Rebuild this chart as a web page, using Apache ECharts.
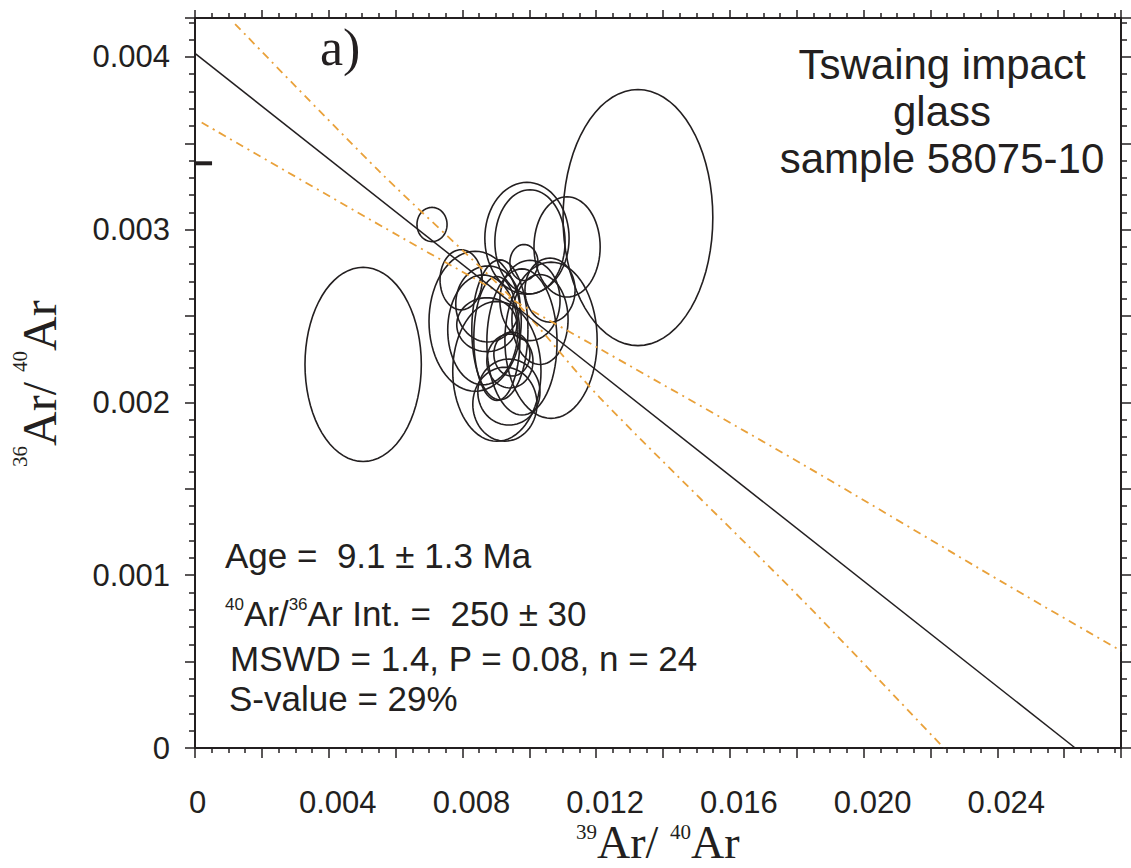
<!DOCTYPE html>
<html><head><meta charset="utf-8">
<script src="https://cdn.jsdelivr.net/npm/echarts@6/dist/echarts.min.js"></script>
<style>html,body{margin:0;padding:0;background:#fff}#c{width:1131px;height:868px}</style>
</head><body><div id="c"></div>
<script>
// ---- data ----
const xTickLabels = ['0','0.004','0.008','0.012','0.016','0.020','0.024'];
const yTickLabels = ['0','0.001','0.002','0.003','0.004'];
// error ellipses: centre (39Ar/40Ar, 36Ar/40Ar) and semi-axes
const ellCX = [0.00503,0.00709,0.01325,0.00993,0.01002,0.01113,0.00984,0.00796,0.00838,0.01065,0.00873,0.00942,0.00903,0.00912,0.01062,0.00876,0.00939,0.00903,0.00978,0.00948,0.01032,0.00861,0.00927,0.01002];
const ellCY = [0.00222,0.00303,0.00307,0.00295,0.00293,0.00290,0.00281,0.00271,0.00247,0.00236,0.00245,0.00224,0.00218,0.00242,0.00265,0.00257,0.00206,0.00237,0.00235,0.00228,0.00248,0.00242,0.00199,0.00259];
const ellRX = [0.00174,0.00045,0.00224,0.00126,0.00105,0.00099,0.00042,0.00063,0.00138,0.00138,0.00090,0.00069,0.00132,0.00084,0.00075,0.00096,0.00093,0.00069,0.00105,0.00054,0.00084,0.00105,0.00096,0.00090];
const ellRY = [0.000562,0.000099,0.000741,0.000324,0.000301,0.000290,0.000104,0.000174,0.000405,0.000452,0.000156,0.000156,0.000405,0.000405,0.000185,0.000220,0.000191,0.000359,0.000423,0.000127,0.000260,0.000318,0.000214,0.000232];
// isochron fit line
const fitX = [0, 0.02633];
const fitY = [0.00402, 0];
// error envelopes
const envSteepX = [0.0012, 0.0055, 0.0096, 0.0121, 0.0182, 0.0224];
const envSteepY = [0.00419, 0.00334, 0.00258, 0.00203, 0.00085, 0.0];
const envShallowX = [0.0002, 0.00613, 0.01211, 0.01819, 0.02429, 0.0277];
const envShallowY = [0.00362, 0.00296, 0.00231, 0.00164, 0.000944, 0.000562];
// atmospheric 36Ar/40Ar marker
const atmX = [0, 0.00051];
const atmY = [1/295.5, 1/295.5];

const X_MAX = 0.0277, Y_MAX = 0.004225;
const INK = '#231f20', ORANGE = '#E9A13A';
const SANS = '"Liberation Sans", Arial, sans-serif';
const SERIF = '"Liberation Serif", "Times New Roman", serif';

const zip = (a, b) => a.map((v, i) => [v, b[i]]);
const findLabel = (arr, v) => arr.find(s => Math.abs(parseFloat(s) - v) < 1e-9);

const chart = echarts.init(document.getElementById('c'), null, {renderer: 'svg'});

const axisCommon = {
  type: 'value', min: 0, splitLine: {show: false},
  axisLine: {show: true, onZero: false, lineStyle: {color: INK, width: 2}},
  axisTick: {show: true, inside: false, length: 9, lineStyle: {color: INK, width: 1.5}},
  minorTick: {show: true, length: 5, lineStyle: {color: INK, width: 1.5}}
};

function txt(x, y, text, font, lh, extra) {
  const st = {text: text, font: font, fill: INK, align: 'left', verticalAlign: 'middle'};
  if (lh) st.lineHeight = lh;
  return Object.assign({type: 'text', x: x, y: y, silent: true, style: st}, extra || {});
}

const option = {
  animation: false,
  grid: {left: 195, top: 18, width: 926, height: 730, containLabel: false},
  xAxis: [
    Object.assign({}, axisCommon, {
      position: 'bottom', max: X_MAX, interval: 0.002,
      minorTick: Object.assign({}, axisCommon.minorTick, {splitNumber: 4, length: 5}),
      axisTick: Object.assign({}, axisCommon.axisTick, {length: 10}),
      axisLabel: {
        show: true, margin: 39, showMaxLabel: false, lineHeight: 31,
        formatter: v => { const s = findLabel(xTickLabels, v); if (!s) return ''; return s === '0' ? '{z|0}' : '{n|' + s + '}'; },
        rich: {
          z: {fontSize: 31, lineHeight: 31, fontFamily: SANS, color: INK, padding: [0, 0, 0, 5]},
          n: {fontSize: 31, lineHeight: 31, fontFamily: SANS, color: INK, padding: [0, 0, 0, 18]}
        }
      }
    }),
    Object.assign({}, axisCommon, {
      position: 'top', max: X_MAX, interval: 0.002,
      minorTick: Object.assign({}, axisCommon.minorTick, {splitNumber: 4}),
      axisTick: Object.assign({}, axisCommon.axisTick, {length: 8}),
      axisLabel: {show: false}
    })
  ],
  yAxis: [
    Object.assign({}, axisCommon, {
      position: 'left', max: Y_MAX, interval: 0.0005,
      minorTick: Object.assign({}, axisCommon.minorTick, {splitNumber: 5, length: 6}),
      axisTick: Object.assign({}, axisCommon.axisTick, {length: 10}),
      axisLabel: {
        show: true, margin: 25, showMaxLabel: false,
        fontSize: 31, fontFamily: SANS, color: INK,
        formatter: v => findLabel(yTickLabels, v) || ''
      }
    }),
    Object.assign({}, axisCommon, {
      position: 'right', max: Y_MAX, interval: 0.0005,
      minorTick: Object.assign({}, axisCommon.minorTick, {splitNumber: 5, length: 6}),
      axisTick: Object.assign({}, axisCommon.axisTick, {length: 10}),
      axisLabel: {show: false}
    })
  ],
  series: [
    {
      type: 'custom', xAxisIndex: 0, yAxisIndex: 0, silent: true,
      data: ellCX.map((v, i) => [v, ellCY[i], ellRX[i], ellRY[i]]),
      encode: {x: 0, y: 1},
      renderItem: (params, api) => {
        const cx = api.value(0), cy = api.value(1), rx = api.value(2), ry = api.value(3);
        const pts = [];
        const N = 72;
        for (let k = 0; k <= N; k++) {
          const t = 2 * Math.PI * k / N;
          pts.push(api.coord([cx + rx * Math.cos(t), cy + ry * Math.sin(t)]));
        }
        return {type: 'polyline', shape: {points: pts}, style: {fill: 'none', stroke: INK, lineWidth: 1.6}};
      }
    },
    {
      type: 'line', data: zip(envSteepX, envSteepY), smooth: 0.3, symbol: 'none', silent: true,
      lineStyle: {color: ORANGE, width: 1.8, type: [8, 5, 2, 5]}
    },
    {
      type: 'line', data: zip(envShallowX, envShallowY), smooth: 0.3, symbol: 'none', silent: true,
      lineStyle: {color: ORANGE, width: 1.8, type: [8, 5, 2, 5]}
    },
    {
      type: 'line', data: zip(fitX, fitY), symbol: 'none', silent: true,
      lineStyle: {color: INK, width: 1.5}
    },
    {
      type: 'line', data: zip(atmX, atmY), symbol: 'none', silent: true,
      lineStyle: {color: INK, width: 4}
    }
  ],
  graphic: [
    txt(320, 47, 'a)', '52px ' + SERIF),
    {type: 'text', x: 942, y: 111, silent: true, style: {text: 'Tswaing impact\nglass\nsample 58075-10', font: '42px ' + SANS, lineHeight: 47, fill: INK, align: 'center', verticalAlign: 'middle'}},
    txt(225, 555, 'Age = \u00a09.1 ± 1.3 Ma', '35px ' + SANS),
    {type: 'text', x: 225, y: 613, silent: true, style: {
      text: '{s|40}{m|Ar/}{s|36}{m|Ar Int. = \u00a0250 ± 30}', align: 'left', verticalAlign: 'middle', fill: INK,
      rich: {s: {fontSize: 17, fontFamily: SANS, fill: INK, lineHeight: 24, verticalAlign: 'top'},
             m: {fontSize: 35, fontFamily: SANS, fill: INK, lineHeight: 35}}
    }},
    txt(230, 658, 'MSWD = 1.4, P = 0.08, n = 24', '35px ' + SANS),
    txt(229, 698, 'S-value = 29%', '35px ' + SANS),
    // x-axis title: 39Ar/ 40Ar
    txt(576, 832, '39', '21px ' + SERIF, 14),
    txt(597, 842, 'Ar/', '46px ' + SERIF, 34),
    txt(670, 832, '40', '21px ' + SERIF, 14),
    txt(691, 842, 'Ar', '46px ' + SERIF, 34),
    // y-axis title: 36Ar/ 40Ar (rotated)
    txt(20, 467, '36', '21px ' + SERIF, 14, {rotation: Math.PI / 2}),
    txt(39, 446, 'Ar/', '48px ' + SERIF, 36, {rotation: Math.PI / 2}),
    txt(20, 372, '40', '21px ' + SERIF, 14, {rotation: Math.PI / 2}),
    txt(39, 351, 'Ar', '48px ' + SERIF, 36, {rotation: Math.PI / 2})
  ]
};
chart.setOption(option);
</script></body></html>
